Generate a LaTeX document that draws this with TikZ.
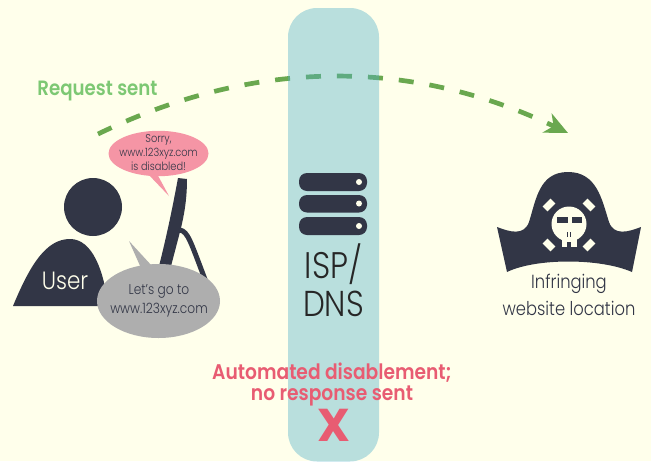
\documentclass[tikz,border=0pt]{standalone}
\usepackage{fontspec}
\setmainfont{Poppins Light}[FakeStretch=0.86]
\newfontfamily\boldf{Poppins SemiBold}[FakeStretch=0.88]
\newfontfamily\xboldf{Poppins Bold}
\usetikzlibrary{arrows.meta}
\definecolor{bg}{HTML}{FFFFEB}
\definecolor{ink}{HTML}{323646}
\definecolor{dashg}{HTML}{6AA84F}
\definecolor{reqg}{HTML}{7DC873}
\definecolor{redt}{HTML}{E85C72}
\definecolor{pillar}{RGB}{80,177,202}
\definecolor{pinkb}{HTML}{F595A5}
\definecolor{grayb}{HTML}{AEAEAE}
\tikzset{x=1pt,y=-1pt,
  lbl/.style={align=center,inner sep=0pt},
  fillink/.style={fill=ink,draw=none},
  bone/.style={fill=bg,draw=none,minimum width=11pt,minimum height=7pt,inner sep=0pt,rectangle},
  srv/.style={fill=ink,draw=none,rounded corners=8pt},
  px/.style={font=\fontsize{#1}{#1}\selectfont}}
\begin{document}
\begin{tikzpicture}
\fill[bg] (0,0) rectangle (651,461);
\useasboundingbox (0,0) rectangle (651,461);
% request curve
\coordinate (reqstart) at (98,134);
\coordinate (reqend) at (568,133);
\draw[dashg,line width=4.7pt,dash pattern=on 15pt off 16pt,-{Stealth[length=23pt,width=21pt,inset=7pt]}]
  (reqstart) .. controls (255,58) and (411,58) .. (reqend);
% pillar
\fill[pillar,opacity=.4,rounded corners=29pt] (288,8) rectangle (379,461.5);
% red text
\node[lbl,text=redt,font=\boldf\fontsize{21.2}{21}\selectfont] (auto) at (332,384) {Automated disablement;\\no response sent};
\node[lbl,text=redt,font=\xboldf\fontsize{46}{46}\selectfont] (xmark) at (334,425) {X};
% server
\fill[srv] (299,173) rectangle (367,191);
\fill[srv] (299,195) rectangle (367,212.5);
\fill[srv] (299,217) rectangle (367,235);
\fill[bg] (359,182) circle[radius=3pt];
\fill[bg] (359,203.5) circle[radius=3pt];
\fill[bg] (359,226) circle[radius=3pt];
\node[lbl,text=black!85,px=37] (isp) at (333.5,264) {ISP/};
\node[lbl,text=black!85,px=36] (dns) at (333.5,303.5) {DNS};
% user
\fill[fillink] (93,207) circle[radius=29pt];
\fill[fillink] (13,306) .. controls (30,265) and (46,239) .. (70,239) .. controls (92,239) and (104,270) .. (108,306) -- cycle;
\node[lbl,text=bg,px=25] (user) at (65,281) {User};
% monitor
\fill[fillink] (178,178) -- (187,179) .. controls (187,200) and (184,215) .. (181,228) -- (170,270) -- (158,270) .. controls (167,235) and (173,205) .. (178,178) -- cycle;
\draw[ink,line width=5pt] (180,230) .. controls (188,232) and (190,240) .. (206,282);
% speech bubbles
\fill[pinkb] (158.5,153.5) ellipse[x radius=50pt,y radius=22.7pt];
\fill[pinkb] (148,174) -- (169,196) -- (156,172) -- cycle;
\fill[grayb] (158.5,301) ellipse[x radius=61.5pt,y radius=37pt];
\fill[grayb] (141,268) -- (129,241) -- (152,266) -- cycle;
\node[lbl,text=ink,font=\fontsize{11.4}{14}\selectfont] (sorry) at (158.5,153) {Sorry,\\www.123xyz.com\\is disabled!};
\node[lbl,text=ink,font=\fontsize{14.2}{18.5}\selectfont] (go) at (159,301) {Let’s go to\\www.123xyz.com};
\node[lbl,text=reqg,font=\boldf\fontsize{20.7}{20.7}\selectfont] (req) at (97.5,91) {Request sent};
% pirate hat
\fill[fillink] (497,227) .. controls (510,232) and (524,236) .. (529,222) .. controls (536,200) and (539,172) .. (568,172) .. controls (597,172) and (602,200) .. (609,222) .. controls (614,236) and (628,232) .. (641,227) -- (632,272) .. controls (600,258) and (536,258) .. (507,272) -- cycle;
\fill[bg] (569,224) circle[radius=17.5pt];
\fill[bg] (562,232) rectangle (577,247);
\fill[fillink] (567,242) rectangle (571,247);
\fill[fillink] (557,217) rectangle (567.5,223);
\fill[fillink] (571.5,217) rectangle (582,223);
\fill[fillink] (567,232) rectangle (568.2,236.5);
\fill[fillink] (570,232) rectangle (571.2,236.5);
\node[bone,rotate=45] (b1) at (549,205) {};
\node[bone,rotate=-45] (b2) at (589,205) {};
\node[bone,rotate=-45] (b3) at (549,245) {};
\node[bone,rotate=45] (b4) at (589,245) {};
\node[lbl,text=ink,font=\fontsize{19}{27}\selectfont] (inf) at (569,294.5) {Infringing\\website location};
\end{tikzpicture}
\end{document}
